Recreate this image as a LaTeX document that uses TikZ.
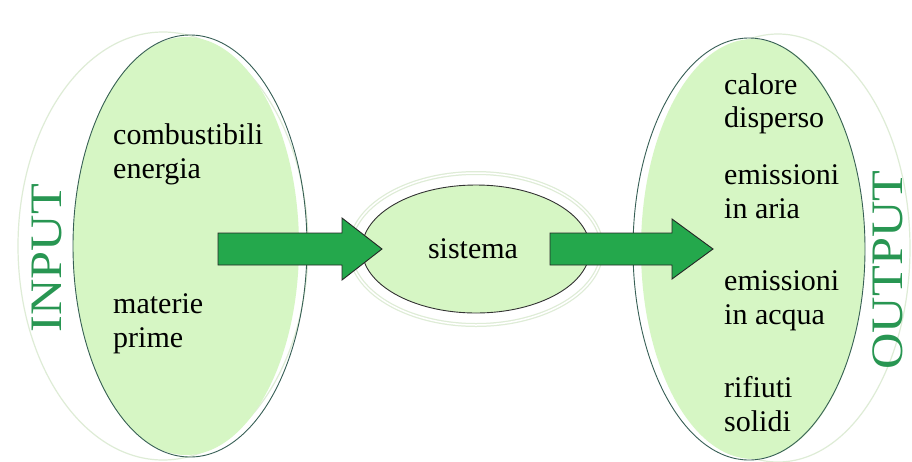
\documentclass[tikz,border=0pt]{standalone}
\usepackage{fontspec}
\setmainfont{Liberation Serif}
\newfontfamily\timesfam{Liberation Serif}
\usetikzlibrary{shapes.geometric}
\definecolor{leaf}{RGB}{214,246,196}
\definecolor{rim}{RGB}{55,95,85}
\definecolor{halo}{RGB}{222,236,214}
\definecolor{arrowgreen}{RGB}{36,168,76}
\definecolor{titlegreen}{RGB}{40,150,82}
\begin{document}
\begin{tikzpicture}[x=1pt,y=-1pt,
  item/.style={anchor=base west, inner sep=0pt, font=\timesfam\fontsize{30}{34}\selectfont},
  title/.style={inner sep=0pt, text=titlegreen, rotate=90, font=\timesfam},
  halo line/.style={draw=halo, line width=1.2pt},
  rim line/.style={draw=rim, line width=0.9pt},
  flow/.style={fill=arrowgreen, draw=black!85, line width=0.9pt, line join=miter},
]
% canvas
\fill[white] (0,0) rectangle (912,461);
\useasboundingbox (0,0) rectangle (912,461);

% ---------- input side ----------
\draw[halo line] (163,246) ellipse [x radius=145, y radius=214];
\fill[leaf] (186,246) ellipse [x radius=113, y radius=209];
\node[ellipse, rim line, minimum width=234pt, minimum height=422pt, inner sep=0pt] (inbox) at (190,246) {};
\node[title] (intitle) at (47,258) {\scalebox{1.12}[1]{\fontsize{45}{45}\selectfont INPUT}};
\node[item] (in1) at (113,144) {combustibili};
\node[item] (in2) at (113,178) {energia};
\node[item] (in3) at (113,313) {materie};
\node[item] (in4) at (113,347) {prime};

% ---------- system ----------
\draw[halo, line width=4pt] (476,249) ellipse [x radius=126, y radius=76];
\draw[white, line width=1.5pt] (476,249) ellipse [x radius=126, y radius=76];
\node[ellipse, fill=leaf, draw=black!80, line width=0.9pt, minimum width=228pt, minimum height=128pt, inner sep=0pt] (sys) at (476,249) {};
\node[anchor=base, inner sep=0pt, font=\timesfam\fontsize{30}{34}\selectfont] (systext) at (473,258) {sistema};

% ---------- output side ----------
\draw[halo line] (778,248) ellipse [x radius=132, y radius=214];
\fill[leaf] (753,249) ellipse [x radius=112, y radius=210];
\node[ellipse, rim line, minimum width=232pt, minimum height=422pt, inner sep=0pt] (outbox) at (749,249) {};
\node[title] (outtitle) at (888,270) {\scalebox{1.12}[1]{\fontsize{45}{45}\selectfont OUTPUT}};
\node[item] (out1) at (724,94) {calore};
\node[item] (out2) at (724,127) {disperso};
\node[item] (out3) at (724,184) {emissioni};
\node[item] (out4) at (724,218) {in aria};
\node[item] (out5) at (724,290) {emissioni};
\node[item] (out6) at (724,324) {in acqua};
\node[item] (out7) at (724,397) {rifiuti};
\node[item] (out8) at (724,431) {solidi};

% ---------- block arrows ----------
\draw[flow] (218,233) -- (342,233) -- (342,218) -- (382,249) -- (342,280) -- (342,265) -- (218,265) -- cycle;
\draw[flow] (550,233) -- (672,233) -- (672,219) -- (713,249) -- (672,279) -- (672,265) -- (550,265) -- cycle;
\end{tikzpicture}
\end{document}
